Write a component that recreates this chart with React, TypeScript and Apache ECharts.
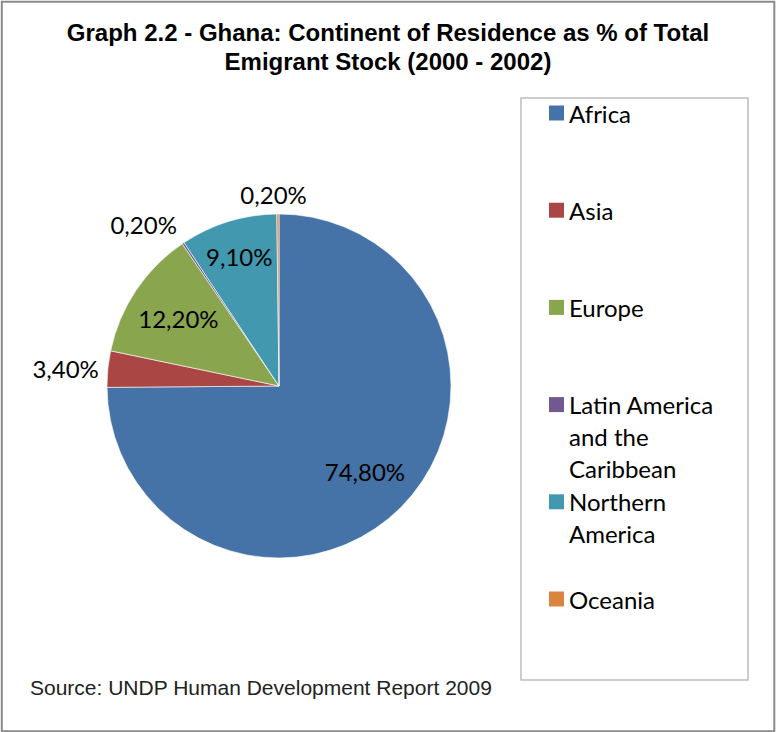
import React, { useEffect, useRef } from 'react';
import * as echarts from 'echarts';

// ---- data ----
const TITLE_LINES = [
  'Graph 2.2 - Ghana: Continent of Residence as % of Total',
  'Emigrant Stock (2000 - 2002)',
];
const SOURCE_TEXT = 'Source: UNDP Human Development Report 2009';
const CATEGORIES = [
  'Africa',
  'Asia',
  'Europe',
  'Latin America and the Caribbean',
  'Northern America',
  'Oceania',
];
const LEGEND_LABELS = [
  'Africa',
  'Asia',
  'Europe',
  'Latin America\nand the\nCaribbean',
  'Northern\nAmerica',
  'Oceania',
];
const SHARES = [74.8, 3.4, 12.2, 0.2, 9.1, 0.2];

// ---- styles / layout ----
const COLORS = ['#4572A7', '#AA4643', '#89A54E', '#71588F', '#4198AF', '#DB843D'];
const W = 776;
const H = 732;
const PIE_CENTER = [279, 386];
const PIE_R = 172;
const LABEL_FONT = 'Lato, "Noto Sans", sans-serif';
const LABEL_SIZE = 24;
// inside label rings: which categories get a label, and the ring inner radius
const INSIDE_RINGS = [
  { inner: 64, names: ['Africa', 'Europe'] },
  { inner: 92, names: ['Northern America'] },
];
// outside labels (no leader lines)
const OUTSIDE_LABELS: Record<string, { length: number; length2: number; distance: number }> = {
  Asia: { length: 0, length2: 4, distance: 5 },
  'Latin America and the Caribbean': { length: 22, length2: 0, distance: -6 },
  Oceania: { length: 20, length2: 0, distance: -29 },
};
const LEGEND_LEFT = 549;
const LEGEND_FIRST_Y = 113;
const LEGEND_STEP = 97.2;
const LEGEND_LINE = 32;

const fmt = (p: any) => Number(p.value).toFixed(2).replace('.', ',') + '%';

export default function App() {
  const ref = useRef<HTMLDivElement>(null);

  useEffect(() => {
    if (!ref.current) return;
    const chart = echarts.init(ref.current, undefined, { renderer: 'svg', width: W, height: H });

    const legends = CATEGORIES.map((name, i) => {
      const n = LEGEND_LABELS[i].split('\n').length;
      const c = LEGEND_FIRST_Y + i * LEGEND_STEP;
      // leading blank lines keep the first text line beside the icon
      const shown = '\n'.repeat(n - 1) + LEGEND_LABELS[i];
      return {
        data: [name],
        orient: 'vertical',
        left: LEGEND_LEFT,
        top: c - (LEGEND_LINE / 2) * (2 * n - 1),
        padding: 0,
        itemGap: 0,
        itemWidth: 15,
        itemHeight: 15,
        icon: 'rect',
        selectedMode: false,
        itemStyle: { borderWidth: 0 },
        formatter: () => shown,
        textStyle: {
          fontFamily: LABEL_FONT,
          fontSize: LABEL_SIZE,
          color: '#000',
          lineHeight: LEGEND_LINE,
        },
      };
    });

    const mainSeries = {
      type: 'pie',
      name: 'main',
      center: PIE_CENTER,
      radius: PIE_R,
      startAngle: 90,
      clockwise: true,
      avoidLabelOverlap: false,
      z: 2,
      itemStyle: { borderColor: '#fff', borderWidth: 0.6 },
      emphasis: { disabled: true },
      label: {
        show: true,
        position: 'outside',
        formatter: fmt,
        fontFamily: LABEL_FONT,
        fontSize: LABEL_SIZE,
        color: '#000',
      },
      labelLine: { show: false },
      data: CATEGORIES.map((name, i) => {
        const t = OUTSIDE_LABELS[name];
        return {
          name,
          value: SHARES[i],
          itemStyle: { color: COLORS[i] },
          label: t ? { show: true, distanceToLabelLine: t.distance } : { show: false },
          labelLine: t ? { show: false, length: t.length, length2: t.length2 } : { show: false },
        };
      }),
    };

    const labelSeries = INSIDE_RINGS.map((ring, k) => ({
      type: 'pie',
      name: 'labels' + k,
      center: PIE_CENTER,
      radius: [ring.inner, PIE_R],
      startAngle: 90,
      clockwise: true,
      silent: true,
      avoidLabelOverlap: false,
      z: 3 + k,
      itemStyle: { color: 'rgba(0,0,0,0)', borderWidth: 0 },
      emphasis: { disabled: true },
      label: {
        show: true,
        position: 'inside',
        formatter: fmt,
        fontFamily: LABEL_FONT,
        fontSize: LABEL_SIZE,
        color: '#000',
      },
      labelLine: { show: false },
      data: CATEGORIES.map((name, i) => ({
        name,
        value: SHARES[i],
        label: { show: ring.names.includes(name) },
      })),
    }));

    chart.setOption({
      animation: false,
      backgroundColor: '#fff',
      color: COLORS,
      title: [
        {
          text: TITLE_LINES.join('\n'),
          left: 'center',
          top: 18,
          padding: 0,
          textStyle: {
            fontFamily: '"Liberation Sans", Arial, sans-serif',
            fontSize: 24,
            fontWeight: 'bold',
            color: '#000',
            lineHeight: 29,
          },
        },
        {
          text: SOURCE_TEXT,
          left: 30,
          top: 675,
          padding: 0,
          textStyle: {
            fontFamily: '"Liberation Sans", Arial, sans-serif',
            fontSize: 21,
            fontWeight: 'normal',
            color: '#222',
            lineHeight: 24,
          },
        },
      ],
      legend: legends,
      graphic: [
        {
          type: 'rect',
          silent: true,
          z: -1,
          shape: { x: 1.8, y: 1.8, width: 772.5, height: 729.4 },
          style: { fill: 'none', stroke: '#8a8a8a', lineWidth: 2 },
        },
        {
          type: 'rect',
          silent: true,
          z: -1,
          shape: { x: 521, y: 98, width: 227, height: 582 },
          style: { fill: 'none', stroke: '#bdbdbd', lineWidth: 1.5 },
        },
      ],
      series: [mainSeries, ...labelSeries],
    });

    return () => chart.dispose();
  }, []);

  return (
    <div
      ref={ref}
      style={{ position: 'fixed', left: 0, top: 0, width: W, height: H, background: '#fff' }}
    />
  );
}
